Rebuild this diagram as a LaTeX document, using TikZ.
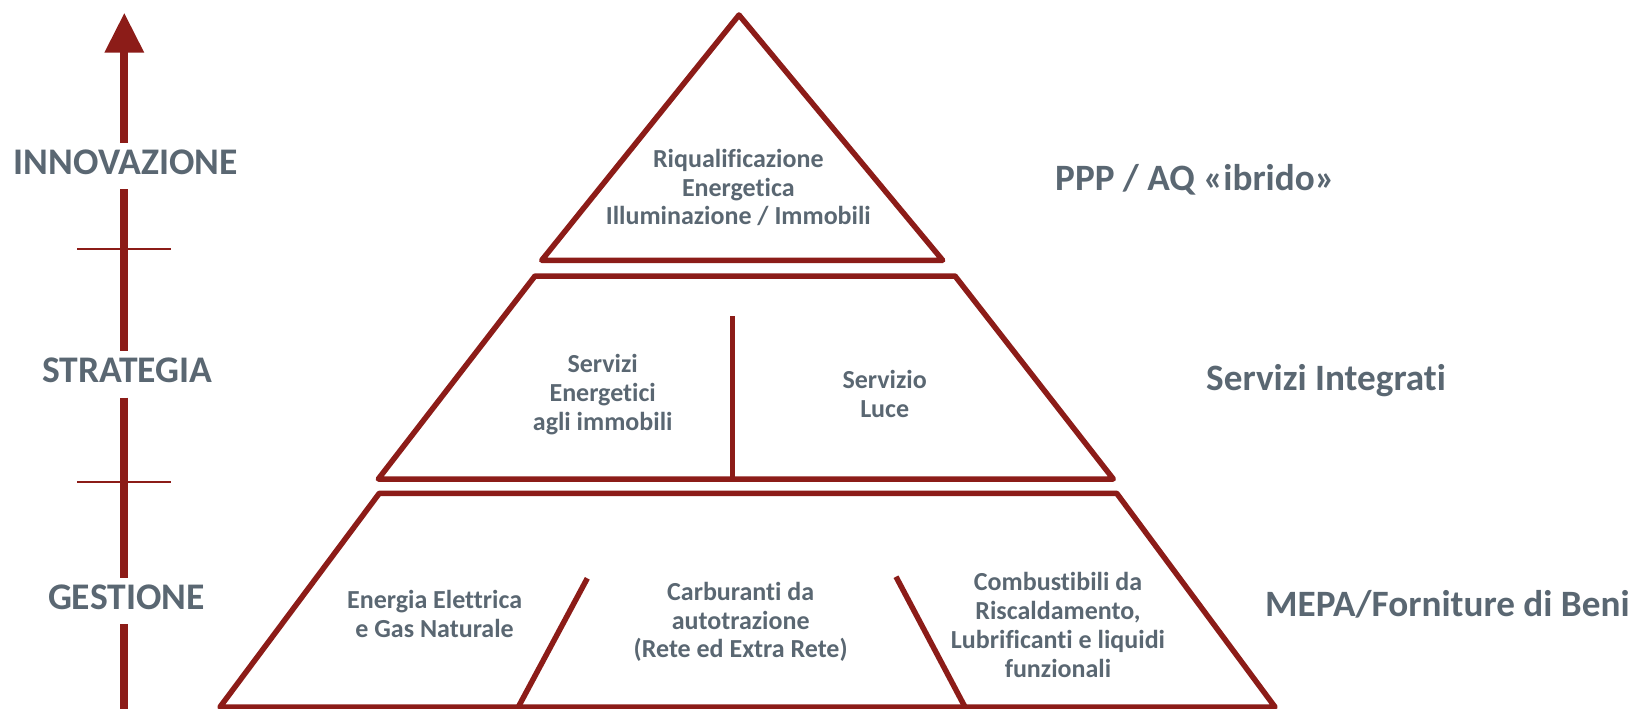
\documentclass[tikz,border=0pt]{standalone}
\usepackage{fontspec}
\setmainfont{Carlito}[Ligatures={NoCommon,NoRare,NoContextual,NoRequired},RawFeature={-calt}]
\definecolor{pred}{RGB}{140,28,24}
\definecolor{ptxt}{RGB}{90,103,114}
\tikzset{
  shaft/.style={pred, line width=8pt},
  tickline/.style={pred, line width=2pt},
  pyr/.style={pred, line width=5.5pt, line join=round},
  divline/.style={pred, line width=5.5pt},
  level/.style={ptxt, font=\fontsize{37.6}{40}\selectfont\bfseries, inner sep=0pt, anchor=base, text height=31.3pt, text depth=15pt},
  side/.style={ptxt, font=\fontsize{37.2}{40}\selectfont\bfseries, inner sep=0pt, anchor=base west},
  inner/.style={ptxt, font=\fontsize{26}{28.7}\selectfont\bfseries, align=center, inner sep=0pt}
}
\begin{document}
\begin{tikzpicture}[x=1pt,y=-1pt]
\useasboundingbox (0,0) rectangle (1634,709);
% --- axis labels
\node[level] (innov) at (125.7,174) {INNOVAZIONE};
\node[level] (strat) at (127.2,382.3) {STRATEGIA};
\node[level] (gest) at (126.3,609) {GESTIONE};
% --- arrow
\coordinate (tip) at (124.3,13.3);
\coordinate (hb) at (124.3,52);
\coordinate (axbot) at (124.3,715);
\fill[pred] (104.3,52.7) -- (144.3,52.7) -- (tip) -- cycle;
\draw[shaft] (hb) -- (hb |- innov.north);
\draw[shaft] (hb |- innov.south) -- (hb |- strat.north);
\draw[shaft] (hb |- strat.south) -- (hb |- gest.north);
\draw[shaft] (hb |- gest.south) -- (axbot);
\draw[tickline] (77,248.7) -- (170.7,248.7);
\draw[tickline] (77,481.7) -- (170.7,481.7);
% --- pyramid: top triangle
\coordinate (apex) at (739,15);
\coordinate (t1) at (942.7,260.3);
\coordinate (t2) at (541.7,260.3);
\draw[pyr] (apex) -- (t1) -- (t2) -- cycle;
% --- middle trapezoid
\coordinate (m1) at (535,276);
\coordinate (m2) at (955,276);
\coordinate (m3) at (1113.3,479);
\coordinate (m4) at (378.3,479);
\draw[pyr] (m1) -- (m2) -- (m3) -- (m4) -- cycle;
\coordinate (md1) at (732.3,316);
\coordinate (md2) at (732.3,479);
\draw[divline] (md1) -- (md2);
% --- bottom trapezoid
\coordinate (b1) at (379.3,493.3);
\coordinate (b2) at (1116.7,493.3);
\coordinate (b3) at (1275,707);
\coordinate (b4) at (220,707);
\draw[pyr] (b1) -- (b2) -- (b3) -- (b4) -- cycle;
\coordinate (bl1) at (587.3,578.3);
\coordinate (bl2) at (518.3,707);
\coordinate (br1) at (896,576.7);
\coordinate (br2) at (965,707);
\draw[divline] (bl1) -- (bl2);
\draw[divline] (br1) -- (br2);
% --- inner texts
\node[inner] (riq) at (738.3,187.5) {Riqualificazione\\Energetica\\Illuminazione / Immobili};
\node[inner] (sen) at (602.7,394.5) {Servizi\\Energetici\\agli immobili};
\node[inner] (luce) at (884.7,394.3) {Servizio\\Luce};
\node[inner] (ee) at (434.6,614.3) {Energia Elettrica\\e Gas Naturale};
\node[inner] (carb) at (740.7,622) {Carburanti da\\autotrazione\\(Rete ed Extra Rete)};
\node[inner] (comb) at (1058,625) {Combustibili da\\Riscaldamento,\\Lubrificanti e liquidi\\funzionali};
% --- side labels
\node[side] (ppp) at (1055,190.7) {PPP / AQ «ibrido»};
\node[side] (si) at (1206,390) {Servizi Integrati};
\node[side] (mepa) at (1265,616.7) {MEPA/Forniture di Beni};
\end{tikzpicture}
\end{document}
